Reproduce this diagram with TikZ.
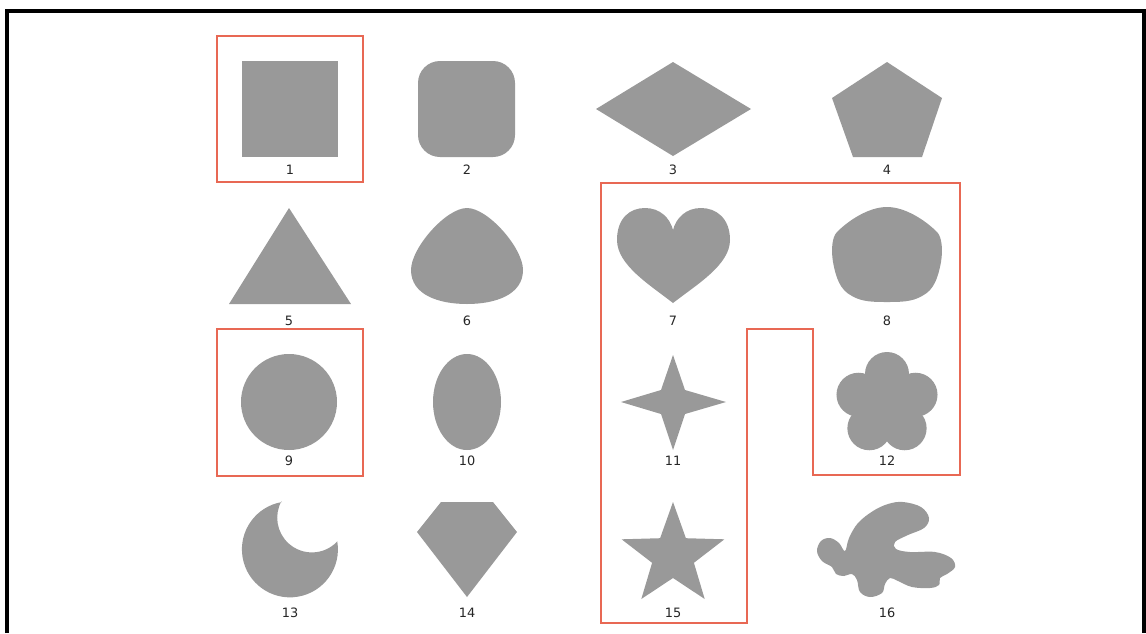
\documentclass[tikz,border=0pt]{standalone}
\usepackage{fontspec}
\setsansfont{DejaVu Sans}
\definecolor{shapegray}{RGB}{153,153,153}
\definecolor{markred}{RGB}{232,104,84}
\tikzset{
  blob/.style={fill=shapegray},
  redframe/.style={draw=markred, line width=1.4pt},
  numlabel/.style={font=\sffamily\fontsize{11}{13}\selectfont, text=black!85, inner sep=0pt}
}
\begin{document}
\begin{tikzpicture}[x=0.03cm, y=-0.03cm]
            \useasboundingbox (0,0) rectangle (1146,633);
            % Frame
            \draw[line width=0.12cm] (7,633) -- (7,11) -- (1144,11) -- (1144,633);
            % Row 1
            \fill[blob] (242,61) rectangle (338,157);
            \fill[blob, rounded corners=0.66cm] (418,61) rectangle (515,157);
            \fill[blob] (596,109) -- (673,62) -- (751,109) -- (673,156) -- cycle;
            \fill[blob] (887,62) -- (942,98) -- (922,157) -- (853,157) -- (832,98) -- cycle;
            % Row 2
            \fill[blob] (289,208) -- (351,304) -- (229,304) -- cycle;
            \fill[blob] (467,208) .. controls (488,208) and (523,248) .. (523,270)
                .. controls (523,295) and (495,304) .. (467,304)
                .. controls (439,304) and (411,295) .. (411,270)
                .. controls (411,248) and (446,208) .. (467,208) -- cycle;
            \fill[blob] (673,303) .. controls (650,285) and (617,265) .. (617,240)
                .. controls (617,218) and (630,208) .. (645,208)
                .. controls (660,208) and (670,218) .. (673,230)
                .. controls (676,218) and (686,208) .. (701,208)
                .. controls (716,208) and (730,218) .. (730,240)
                .. controls (730,265) and (696,285) .. (673,303) -- cycle;
            \fill[blob] (887,207) .. controls (905,207) and (925,220) .. (937,232)
                .. controls (942,237) and (943,250) .. (941,262)
                .. controls (938,278) and (934,290) .. (922,296)
                .. controls (912,302) and (900,302) .. (887,302)
                .. controls (874,302) and (862,302) .. (852,296)
                .. controls (840,290) and (836,278) .. (833,262)
                .. controls (831,250) and (832,237) .. (837,232)
                .. controls (849,220) and (869,207) .. (887,207) -- cycle;
            % Row 3
            \fill[blob] (289,402) circle[radius=1.44cm];
            \fill[blob] (467,402) ellipse[x radius=1.02cm, y radius=1.44cm];
            \fill[blob] (673,355) -- (685,390) -- (726,402) -- (685,414) -- (673,450) -- (661,414) -- (621,402) -- (661,390) -- cycle;
            \fill[blob] (887,404) circle[radius=0.9cm];
            \foreach \a in {270,342,54,126,198} {
                    \fill[blob] (887,404) ++(\a:30) circle[radius=0.66cm];
                }
            % Row 4
            \fill[blob] (282,502) arc[start angle=99.5, end angle=369.5, radius=1.44cm]
                arc[start angle=-43.1, end angle=-208, radius=1.041cm] -- cycle;
            \fill[blob] (441,502) -- (493,502) -- (517,532) -- (467,597) -- (417,532) -- cycle;
            \fill[blob] (673,502) -- (685.9,538.2) -- (724.4,539.3) -- (693.9,562.8) -- (704.7,599) -- (673,578) -- (641.3,599) -- (652.1,562.8) -- (621.6,539.3) -- (660.1,538.2) -- cycle;
            \fill[blob] plot[smooth cycle, tension=0.6] coordinates {(903,502) (921,507) (929,518) (924,528) (908,535) (895,542) (896,549) (910,552) (935,552) (951,558) (955,567) (947,574) (940,578) (939,585) (930,588) (912,587) (898,581) (890,578) (885,584) (882,593) (870,597) (860,592) (857,580) (852,574) (844,576) (836,574) (832,567) (822,561) (817,551) (821,541) (830,538) (839,543) (845,551) (849,538) (858,523) (873,511) (888,504)};
            % Red outlines
            \draw[redframe] (217,36) rectangle (363,182);
            \draw[redframe] (217,329) rectangle (363,476);
            \draw[redframe] (601,183) -- (960,183) -- (960,475) -- (813,475) -- (813,329) -- (747,329) -- (747,623) -- (601,623) -- cycle;
            % Labels
            \foreach \n/\x/\y in {1/290/170, 2/467/170, 3/673/170, 4/887/170,
                    5/289/321, 6/467/321, 7/673/321, 8/887/321,
                    9/289/461, 10/467/461, 11/673/461, 12/887/461,
                    13/290/613, 14/467/613, 15/673/613, 16/887/613} {
                    \node[numlabel] (lbl\n) at (\x,\y) {\n};
                }
        \end{tikzpicture}
\end{document}
